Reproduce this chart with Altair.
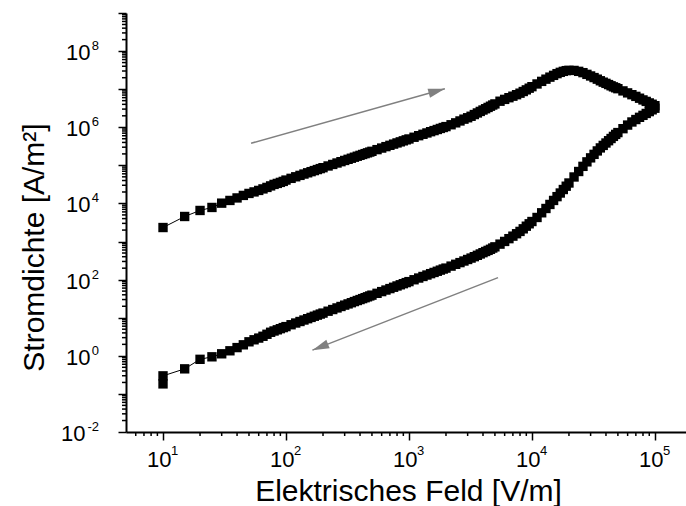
import altair as alt
import pandas as pd

# ---------------- data ----------------
# electric field [V/m] (same grid for both branches)
field_up = [10, 15, 20, 25, 30, 35, 40, 45, 50, 55, 60, 65, 70, 75, 80, 85, 90, 95,
    100, 110, 120, 130, 140, 150, 160, 170, 180, 190, 200, 220, 240, 260, 280, 300,
    320, 340, 360, 380, 400, 420, 440, 460, 480, 500, 550, 600, 650, 700, 750, 800,
    850, 900, 950,
    1000, 1100, 1200, 1300, 1400, 1500, 1600, 1700, 1800, 1900, 2000, 2200, 2400, 2600,
    2800, 3000, 3200, 3400, 3600, 3800, 4000, 4200, 4400, 4600, 4800, 5000, 5500, 6000,
    6500, 7000, 7500, 8000, 8500, 9000, 9500,
    10000, 11000, 12000, 13000, 14000, 15000, 16000, 17000, 18000, 19000, 20000, 22000,
    24000, 26000, 28000, 30000, 32000, 34000, 36000, 38000, 40000, 42000, 44000, 46000,
    48000, 50000, 55000, 60000, 65000, 70000, 75000, 80000, 85000, 90000, 95000,
    100000]

# log10 of current density [A/m^2], rising field
log_j_up = [3.368, 3.658, 3.816, 3.895, 4.008, 4.079, 4.145, 4.211, 4.263, 4.303, 4.342,
    4.382, 4.421, 4.461, 4.500, 4.526, 4.553, 4.579,
    4.614, 4.659, 4.700, 4.737, 4.772, 4.805, 4.835, 4.863, 4.890, 4.915, 4.939, 4.984,
    5.024, 5.062, 5.097, 5.129, 5.159, 5.187, 5.214, 5.240, 5.263, 5.286, 5.308, 5.329,
    5.349, 5.369, 5.413, 5.454, 5.492, 5.526, 5.558, 5.589, 5.617, 5.644, 5.670,
    5.693, 5.738, 5.779, 5.816, 5.851, 5.884, 5.913, 5.942, 5.969, 5.994, 6.018, 6.066,
    6.116, 6.166, 6.213, 6.250, 6.289, 6.334, 6.376, 6.416, 6.453, 6.487, 6.521, 6.553,
    6.584, 6.613, 6.684, 6.732, 6.776, 6.816, 6.855, 6.895, 6.939, 6.982, 7.026,
    7.066, 7.137, 7.205, 7.263, 7.316, 7.363, 7.408, 7.442, 7.468, 7.487, 7.495, 7.492,
    7.468, 7.434, 7.389, 7.347, 7.305, 7.263, 7.221, 7.184, 7.153, 7.121, 7.089, 7.061,
    7.037, 7.013, 6.955, 6.903, 6.855, 6.811, 6.763, 6.718, 6.679, 6.639, 6.605,
    6.566]

# falling field (listed in ascending field order; measured from 1e5 back to 10)
field_down = [10] + field_up
log_j_down = [-0.737, -0.526, -0.342, -0.092, -0.026, 0.053, 0.132, 0.216, 0.289, 0.368,
    0.421, 0.466, 0.513, 0.566, 0.618, 0.652, 0.683, 0.713, 0.741,
    0.767, 0.816, 0.861, 0.901, 0.940, 0.975, 1.008, 1.039, 1.068, 1.096, 1.122, 1.171,
    1.215, 1.257, 1.295, 1.331, 1.363, 1.394, 1.424, 1.452, 1.477, 1.502, 1.526, 1.549,
    1.572, 1.593, 1.641, 1.686, 1.727, 1.765, 1.800, 1.834, 1.865, 1.894, 1.922,
    1.948, 1.997, 2.042, 2.083, 2.121, 2.157, 2.189, 2.220, 2.250, 2.278, 2.303, 2.355,
    2.403, 2.447, 2.489, 2.529, 2.566, 2.603, 2.639, 2.674, 2.708, 2.739, 2.768, 2.797,
    2.829, 2.861, 2.932, 3.003, 3.076, 3.142, 3.205, 3.266, 3.334, 3.403, 3.466,
    3.526, 3.632, 3.755, 3.868, 3.974, 4.079, 4.179, 4.274, 4.366, 4.453, 4.537, 4.695,
    4.839, 4.974, 5.092, 5.197, 5.289, 5.379, 5.458, 5.524, 5.587, 5.647, 5.705, 5.761,
    5.813, 5.861, 5.963, 6.058, 6.139, 6.203, 6.261, 6.313, 6.363, 6.411, 6.458,
    6.500]

# direction arrows (start -> end, data coordinates)
arrow_x_start = [52, 5300]
arrow_y_start = [3.8e5, 113]
arrow_x_end = [1960, 164]
arrow_y_end = [1.03e7, 1.41]

# axis ticks / labels
x_major = [10, 100, 1000, 10000, 100000]
x_label_exp = [1, 2, 3, 4, 5]
x_minor = [6, 7, 8, 9] + [m * 10.0 ** e for e in range(1, 5) for m in range(2, 10)]
y_major = [10.0 ** e for e in range(-2, 10)]
y_label_exp = [-2, 0, 2, 4, 6, 8]
y_minor = [m * 10.0 ** e for e in range(-2, 9) for m in range(2, 10)]

# ---------------- tables ----------------
up = pd.DataFrame({"E": field_up, "J": [10 ** v for v in log_j_up]})
up["branch"] = "up"
up["ord"] = range(len(up))
down = pd.DataFrame({"E": field_down, "J": [10 ** v for v in log_j_down]})
down["branch"] = "down"
down["ord"] = [1000 - i for i in range(len(down))]
df = pd.concat([up, down], ignore_index=True)

arrows = pd.DataFrame({"xs": arrow_x_start, "ys": arrow_y_start,
                       "xe": arrow_x_end, "ye": arrow_y_end})
xlab = pd.DataFrame({"v": [10.0 ** e for e in x_label_exp], "t": [str(e) for e in x_label_exp]})
ylab = pd.DataFrame({"v": [10.0 ** e for e in y_label_exp], "t": [str(e) for e in y_label_exp]})
xmin_df = pd.DataFrame({"v": x_minor})
ymin_df = pd.DataFrame({"v": y_minor})

# ---------------- styling ----------------
FONT = "Liberation Sans"
W, H = 560, 419

xscale = alt.Scale(type="log", domain=[5, 179000], nice=False)
yscale = alt.Scale(type="log", domain=[0.01, 1e9], nice=False)

xaxis = alt.Axis(values=x_major, labelExpr="'10'", title="Elektrisches Feld [V/m]",
                 grid=False, domainColor="black", domainWidth=2, tickColor="black",
                 tickWidth=1.5, tickSize=8, labelFont=FONT, labelFontSize=22,
                 labelColor="black", labelAlign="right", labelOffset=8,
                 labelBaseline="alphabetic", labelPadding=26, labelFlush=False,
                 labelOverlap=False, titleFont=FONT, titleFontSize=30,
                 titleFontWeight="normal", titleColor="black", titleX=282, titleY=68,
                 titleBaseline="alphabetic", titleAlign="center")

yaxis = alt.Axis(values=y_major,
                 labelExpr="(round(log(datum.value)/LN10) % 2 == 0) ? '10' : ''",
                 title="Stromdichte [A/m²]", grid=False, domainColor="black",
                 domainWidth=2, tickColor="black", tickWidth=1.5, tickSize=8,
                 labelFont=FONT, labelFontSize=22, labelColor="black",
                 labelAlign="right", labelBaseline="alphabetic", labelOffset=8.5,
                 labelPadding={"condition": {"test": "datum.value < 0.1", "value": 33},
                               "value": 28},
                 labelFlush=False, labelOverlap=False, titleFont=FONT,
                 titleFontSize=30, titleFontWeight="normal", titleColor="black",
                 titleAngle=270, titleX=-83, titleY=234, titleBaseline="alphabetic",
                 titleAlign="center")

X = alt.X("E:Q", scale=xscale, axis=xaxis)
Y = alt.Y("J:Q", scale=yscale, axis=yaxis)

line = alt.Chart(df).mark_line(color="black", strokeWidth=1).encode(
    x=X, y=Y, detail="branch:N", order="ord:Q")
pts = alt.Chart(df).mark_square(size=88, color="black", opacity=1, filled=True).encode(
    x=X, y=Y)

arrow_lines = alt.Chart(arrows).mark_rule(color="#808080", strokeWidth=1.5).encode(
    x=alt.X("xs:Q", scale=xscale, axis=xaxis), y=alt.Y("ys:Q", scale=yscale, axis=yaxis),
    x2="xe:Q", y2="ye:Q")
HEAD = "M0,0L-2,-0.55L-2,0.55Z"
head1 = alt.Chart(arrows.iloc[[0]]).mark_point(
    shape=HEAD, size=280, filled=True, color="#808080", opacity=1, angle=344.3,
    strokeWidth=0).encode(x=alt.X("xe:Q", scale=xscale, axis=xaxis),
                          y=alt.Y("ye:Q", scale=yscale, axis=yaxis))
head2 = alt.Chart(arrows.iloc[[1]]).mark_point(
    shape=HEAD, size=280, filled=True, color="#808080", opacity=1, angle=158.7,
    strokeWidth=0).encode(x=alt.X("xe:Q", scale=xscale, axis=xaxis),
                          y=alt.Y("ye:Q", scale=yscale, axis=yaxis))

x_minor_ticks = alt.Chart(xmin_df).mark_rule(color="black", strokeWidth=1.5).encode(
    x=alt.X("v:Q", scale=xscale, axis=xaxis), y=alt.value(H), y2=alt.value(H + 4))
y_minor_ticks = alt.Chart(ymin_df).mark_rule(color="black", strokeWidth=1.5).encode(
    y=alt.Y("v:Q", scale=yscale, axis=yaxis), x=alt.value(0), x2=alt.value(-4))

x_exp = alt.Chart(xlab).mark_text(align="left", baseline="alphabetic", dx=8,
                                  fontSize=13, font=FONT, color="black").encode(
    x=alt.X("v:Q", scale=xscale, axis=xaxis), y=alt.value(442), text="t:N")
y_exp = alt.Chart(ylab).mark_text(align="right", baseline="alphabetic", dy=-1,
                                  fontSize=13, font=FONT, color="black").encode(
    y=alt.Y("v:Q", scale=yscale, axis=yaxis), x=alt.value(-27), text="t:N")

chart = alt.layer(
    x_minor_ticks, y_minor_ticks, arrow_lines, head1, head2, line, pts, x_exp, y_exp
).properties(
    width=W, height=H,
    autosize=alt.AutoSizeParams(type="none"),
    padding={"left": 126, "top": 13, "right": 0, "bottom": 74},
).configure_view(stroke=None)

chart.save("out.html", embed_options={"renderer": "svg", "actions": False})
